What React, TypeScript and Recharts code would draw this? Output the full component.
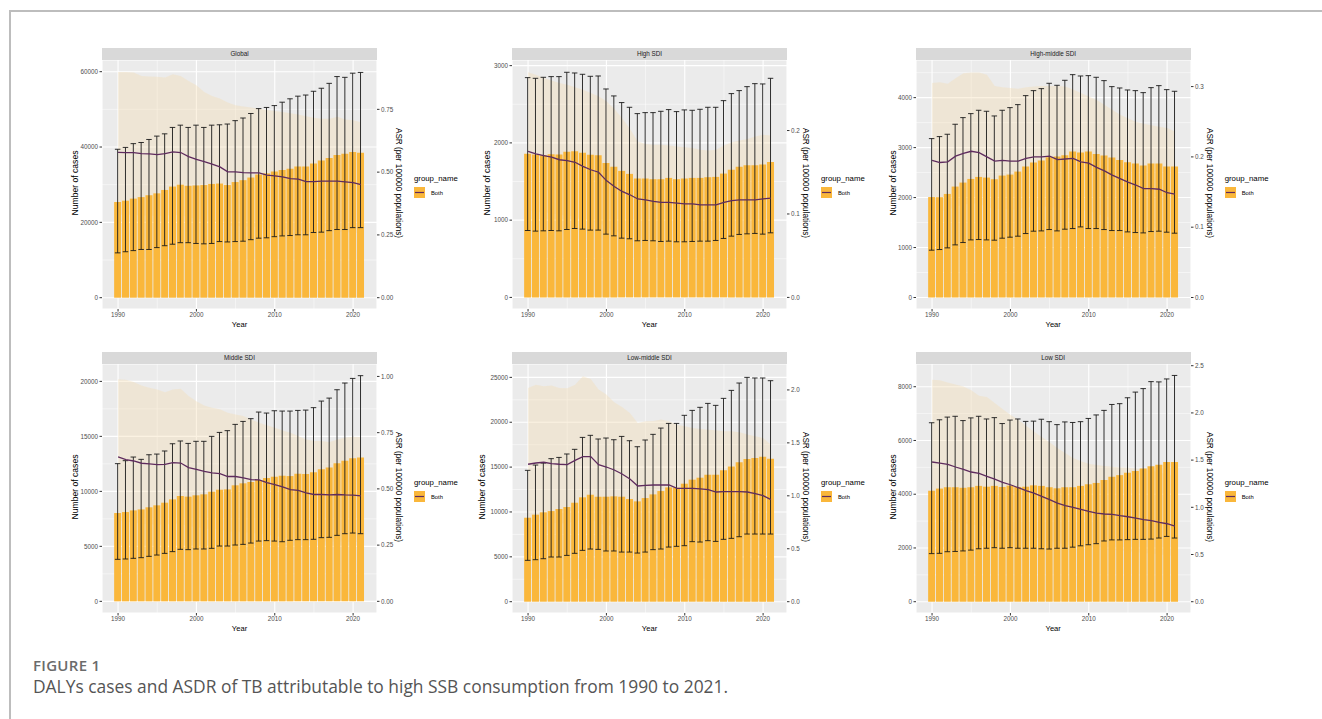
import { ComposedChart, Bar, ErrorBar, Line, Area, XAxis, YAxis, CartesianGrid } from "recharts"

const years = [1990, 1991, 1992, 1993, 1994, 1995, 1996, 1997, 1998, 1999, 2000, 2001, 2002, 2003, 2004, 2005, 2006, 2007, 2008, 2009, 2010, 2011, 2012, 2013, 2014, 2015, 2016, 2017, 2018, 2019, 2020, 2021]
const majorYears = [1990, 2000, 2010, 2020]
const minorYears = [1995, 2005, 2015]

// Global
const globalCases = [25400, 25750, 26300, 26700, 27200, 27700, 28600, 29500, 30000, 29700, 29800, 29900, 30200, 30300, 29900, 30700, 31200, 31900, 32700, 33000, 33500, 33900, 34200, 34800, 34800, 35600, 36400, 37100, 37900, 38200, 38700, 38500]
const globalUpper = [39400, 39900, 40900, 41200, 42000, 42900, 43500, 45200, 45800, 45200, 45800, 45200, 45800, 45900, 46100, 47000, 47700, 48900, 50200, 50500, 51000, 51900, 52800, 53500, 53800, 54800, 55600, 56900, 58700, 58500, 59600, 59800]
const globalLower = [11900, 12200, 12500, 12800, 12800, 13300, 13800, 14200, 14600, 14600, 14400, 14300, 14400, 14900, 14800, 14900, 15000, 15400, 15800, 15900, 16200, 16400, 16500, 16700, 16700, 17300, 17400, 17800, 18100, 18100, 18600, 18600]
const globalAsr = [0.579, 0.578, 0.578, 0.574, 0.573, 0.57, 0.574, 0.581, 0.578, 0.562, 0.551, 0.542, 0.532, 0.521, 0.501, 0.501, 0.498, 0.497, 0.497, 0.488, 0.485, 0.481, 0.474, 0.472, 0.462, 0.462, 0.464, 0.464, 0.464, 0.461, 0.458, 0.45]
const globalAsrUpper = [0.899, 0.899, 0.897, 0.883, 0.881, 0.88, 0.877, 0.89, 0.883, 0.863, 0.846, 0.819, 0.803, 0.793, 0.777, 0.766, 0.761, 0.757, 0.753, 0.747, 0.743, 0.739, 0.734, 0.729, 0.723, 0.717, 0.713, 0.713, 0.721, 0.71, 0.707, 0.699]
const globalAsrLower = [0.33, 0.33, 0.329, 0.327, 0.326, 0.325, 0.326, 0.33, 0.328, 0.32, 0.314, 0.309, 0.303, 0.297, 0.286, 0.286, 0.284, 0.283, 0.283, 0.278, 0.276, 0.274, 0.27, 0.269, 0.263, 0.263, 0.264, 0.264, 0.264, 0.262, 0.26, 0.256]

// High SDI
const highCases = [1858, 1849, 1840, 1853, 1849, 1884, 1892, 1871, 1845, 1840, 1741, 1690, 1638, 1599, 1539, 1539, 1530, 1530, 1547, 1530, 1539, 1547, 1547, 1556, 1560, 1603, 1651, 1690, 1711, 1711, 1720, 1754]
const highUpper = [2845, 2836, 2849, 2858, 2858, 2914, 2905, 2888, 2862, 2866, 2698, 2608, 2522, 2461, 2379, 2392, 2392, 2409, 2431, 2405, 2427, 2422, 2435, 2461, 2461, 2547, 2638, 2677, 2728, 2767, 2763, 2836]
const highLower = [866, 858, 862, 866, 862, 879, 892, 884, 871, 871, 819, 797, 767, 759, 733, 737, 733, 724, 728, 720, 720, 724, 728, 728, 737, 763, 793, 815, 823, 828, 819, 836]
const highAsr = [0.175, 0.172, 0.17, 0.168, 0.165, 0.164, 0.162, 0.157, 0.153, 0.15, 0.14, 0.133, 0.127, 0.123, 0.118, 0.117, 0.115, 0.114, 0.114, 0.113, 0.112, 0.112, 0.111, 0.111, 0.111, 0.114, 0.116, 0.117, 0.117, 0.117, 0.118, 0.119]
const highAsrUpper = [0.27, 0.267, 0.263, 0.26, 0.257, 0.255, 0.252, 0.249, 0.245, 0.241, 0.235, 0.226, 0.215, 0.202, 0.187, 0.184, 0.183, 0.183, 0.182, 0.181, 0.18, 0.179, 0.177, 0.176, 0.177, 0.182, 0.186, 0.188, 0.19, 0.193, 0.195, 0.194]
const highAsrLower = [0.105, 0.103, 0.102, 0.101, 0.099, 0.098, 0.097, 0.094, 0.092, 0.09, 0.084, 0.08, 0.076, 0.074, 0.071, 0.07, 0.069, 0.068, 0.068, 0.068, 0.067, 0.067, 0.067, 0.067, 0.067, 0.068, 0.07, 0.07, 0.07, 0.07, 0.071, 0.071]

// High-middle SDI
const hmCases = [2010, 2007, 2073, 2220, 2300, 2373, 2413, 2400, 2367, 2440, 2460, 2520, 2620, 2700, 2740, 2807, 2820, 2847, 2920, 2900, 2920, 2873, 2840, 2800, 2753, 2707, 2680, 2640, 2680, 2680, 2620, 2620]
const hmUpper = [3180, 3220, 3267, 3467, 3600, 3680, 3747, 3727, 3633, 3747, 3800, 3860, 4040, 4140, 4180, 4287, 4247, 4347, 4460, 4433, 4440, 4407, 4340, 4220, 4193, 4153, 4140, 4100, 4200, 4240, 4160, 4127]
const hmLower = [947, 960, 993, 1053, 1100, 1153, 1160, 1153, 1147, 1187, 1207, 1227, 1280, 1327, 1333, 1360, 1333, 1367, 1380, 1413, 1380, 1380, 1360, 1340, 1340, 1313, 1300, 1293, 1320, 1327, 1307, 1287]
const hmAsr = [0.195, 0.192, 0.193, 0.201, 0.205, 0.208, 0.206, 0.2, 0.194, 0.195, 0.194, 0.194, 0.198, 0.2, 0.2, 0.201, 0.196, 0.197, 0.198, 0.193, 0.191, 0.185, 0.18, 0.174, 0.169, 0.164, 0.16, 0.155, 0.155, 0.154, 0.149, 0.147]
const hmAsrUpper = [0.305, 0.306, 0.304, 0.312, 0.319, 0.32, 0.32, 0.317, 0.301, 0.299, 0.298, 0.297, 0.299, 0.3, 0.301, 0.301, 0.301, 0.3, 0.296, 0.291, 0.286, 0.281, 0.274, 0.267, 0.26, 0.255, 0.25, 0.247, 0.245, 0.243, 0.241, 0.236]
const hmAsrLower = [0.125, 0.123, 0.124, 0.129, 0.132, 0.134, 0.133, 0.129, 0.125, 0.126, 0.125, 0.125, 0.128, 0.129, 0.129, 0.13, 0.126, 0.127, 0.128, 0.124, 0.123, 0.119, 0.116, 0.112, 0.109, 0.106, 0.103, 0.1, 0.1, 0.099, 0.096, 0.095]

// Middle SDI
const midCases = [8030, 8120, 8270, 8360, 8550, 8730, 8970, 9270, 9580, 9520, 9640, 9730, 9970, 10150, 10180, 10550, 10730, 10850, 11030, 11210, 11330, 11420, 11390, 11610, 11580, 11730, 12000, 12180, 12550, 12790, 13000, 13090]
const midUpper = [12520, 12790, 13120, 12910, 13330, 13390, 13670, 14330, 14580, 14360, 14550, 14550, 15000, 15360, 15520, 16090, 16360, 16610, 17210, 17120, 17330, 17300, 17300, 17360, 17390, 17610, 18210, 18480, 19240, 19850, 20270, 20520]
const midLower = [3820, 3850, 3910, 3970, 4090, 4210, 4360, 4520, 4730, 4700, 4760, 4760, 4820, 5030, 5030, 5120, 5180, 5300, 5480, 5520, 5480, 5420, 5550, 5610, 5610, 5640, 5790, 5820, 6000, 6150, 6210, 6150]
const midAsr = [0.642, 0.63, 0.624, 0.614, 0.611, 0.608, 0.609, 0.617, 0.615, 0.595, 0.587, 0.578, 0.571, 0.568, 0.555, 0.555, 0.549, 0.541, 0.54, 0.528, 0.519, 0.509, 0.497, 0.493, 0.482, 0.475, 0.475, 0.473, 0.475, 0.473, 0.472, 0.469]
const midAsrUpper = [0.987, 0.985, 0.975, 0.96, 0.95, 0.942, 0.93, 0.942, 0.945, 0.913, 0.89, 0.871, 0.861, 0.854, 0.839, 0.831, 0.824, 0.809, 0.794, 0.783, 0.772, 0.76, 0.75, 0.735, 0.72, 0.713, 0.713, 0.709, 0.72, 0.728, 0.732, 0.731]
const midAsrLower = [0.36, 0.354, 0.35, 0.344, 0.343, 0.341, 0.342, 0.346, 0.345, 0.334, 0.329, 0.324, 0.32, 0.319, 0.311, 0.311, 0.308, 0.303, 0.303, 0.296, 0.291, 0.286, 0.279, 0.277, 0.27, 0.266, 0.266, 0.265, 0.266, 0.265, 0.265, 0.263]

// Low-middle SDI
const lmCases = [9360, 9700, 9960, 10100, 10330, 10550, 11030, 11630, 11920, 11700, 11700, 11740, 11700, 11440, 11180, 11550, 11960, 12330, 12740, 12700, 13150, 13600, 13820, 14150, 14150, 14640, 15080, 15530, 15900, 16010, 16160, 15940]
const lmUpper = [14640, 15230, 15450, 15940, 16080, 16460, 16980, 18310, 18540, 18130, 18240, 18050, 18420, 17940, 17270, 18020, 18650, 19350, 19870, 19870, 20770, 21320, 21660, 22100, 21880, 22660, 23550, 24370, 25000, 24930, 24930, 24630]
const lmLower = [4610, 4680, 4790, 4980, 4980, 5160, 5390, 5720, 5870, 5830, 5650, 5650, 5530, 5530, 5420, 5530, 5800, 5870, 6090, 6170, 6240, 6690, 6650, 6800, 6720, 6950, 7060, 7240, 7540, 7540, 7540, 7540]
const lmAsr = [1.298, 1.31, 1.317, 1.304, 1.298, 1.294, 1.335, 1.37, 1.37, 1.294, 1.272, 1.244, 1.206, 1.159, 1.093, 1.099, 1.102, 1.102, 1.102, 1.071, 1.071, 1.071, 1.065, 1.058, 1.036, 1.039, 1.039, 1.039, 1.036, 1.02, 1.002, 0.964]
const lmAsrUpper = [2.019, 2.05, 2.035, 2.041, 2.019, 2.016, 2.05, 2.129, 2.104, 2.003, 1.956, 1.883, 1.839, 1.783, 1.688, 1.704, 1.707, 1.72, 1.704, 1.672, 1.657, 1.641, 1.632, 1.625, 1.619, 1.61, 1.61, 1.6, 1.578, 1.562, 1.546, 1.483]
const lmAsrLower = [0.74, 0.747, 0.751, 0.743, 0.74, 0.738, 0.761, 0.781, 0.781, 0.738, 0.725, 0.709, 0.687, 0.661, 0.623, 0.626, 0.628, 0.628, 0.628, 0.61, 0.61, 0.61, 0.607, 0.603, 0.591, 0.592, 0.592, 0.592, 0.591, 0.581, 0.571, 0.55]

// Low SDI
const lowCases = [4130, 4210, 4260, 4260, 4240, 4260, 4310, 4280, 4310, 4270, 4320, 4270, 4280, 4330, 4310, 4260, 4220, 4260, 4260, 4310, 4370, 4420, 4530, 4650, 4710, 4800, 4860, 4960, 5040, 5100, 5200, 5200]
const lowUpper = [6660, 6770, 6870, 6900, 6740, 6840, 6900, 6800, 6850, 6630, 6760, 6800, 6710, 6720, 6790, 6700, 6590, 6690, 6670, 6700, 6820, 6950, 7120, 7340, 7370, 7590, 7800, 7930, 8190, 8180, 8290, 8420]
const lowLower = [1790, 1800, 1860, 1870, 1890, 1920, 1970, 1990, 2010, 1990, 2010, 1990, 1990, 1990, 1970, 1960, 1990, 1990, 2030, 2080, 2120, 2160, 2260, 2300, 2300, 2310, 2320, 2320, 2330, 2370, 2430, 2370]
const lowAsr = [1.48, 1.469, 1.455, 1.427, 1.402, 1.374, 1.359, 1.328, 1.299, 1.264, 1.239, 1.208, 1.176, 1.151, 1.116, 1.081, 1.045, 1.017, 0.999, 0.978, 0.957, 0.939, 0.929, 0.925, 0.911, 0.9, 0.886, 0.869, 0.858, 0.84, 0.826, 0.802]
const lowAsrUpper = [2.352, 2.345, 2.323, 2.302, 2.281, 2.239, 2.182, 2.168, 2.105, 2.041, 1.981, 1.928, 1.865, 1.804, 1.745, 1.688, 1.628, 1.575, 1.522, 1.487, 1.462, 1.448, 1.437, 1.43, 1.423, 1.42, 1.41, 1.4, 1.39, 1.37, 1.35, 1.32]
const lowAsrLower = [0.88, 0.874, 0.866, 0.85, 0.835, 0.818, 0.809, 0.79, 0.773, 0.752, 0.737, 0.719, 0.7, 0.685, 0.664, 0.643, 0.622, 0.605, 0.594, 0.582, 0.569, 0.559, 0.553, 0.55, 0.542, 0.535, 0.527, 0.517, 0.51, 0.5, 0.491, 0.477]

const panels = [
  { name: "Global", col: 0, row: 0, cases: globalCases, upper: globalUpper, lower: globalLower, asr: globalAsr, asrUpper: globalAsrUpper, asrLower: globalAsrLower,
    yDomain: [-3000, 63100], yTicks: [0, 20000, 40000, 60000], yMinor: [10000, 30000, 50000], factor: 66667, rTicks: [0, 0.25, 0.5, 0.75], rDigits: 2, titleX: 75 },
  { name: "High SDI", col: 1, row: 0, cases: highCases, upper: highUpper, lower: highLower, asr: highAsr, asrUpper: highAsrUpper, asrLower: highAsrLower,
    yDomain: [-150, 3073], yTicks: [0, 1000, 2000, 3000], yMinor: [500, 1500, 2500], factor: 10800, rTicks: [0, 0.1, 0.2], rDigits: 1, titleX: 487 },
  { name: "High-middle SDI", col: 2, row: 0, cases: hmCases, upper: hmUpper, lower: hmLower, asr: hmAsr, asrUpper: hmAsrUpper, asrLower: hmAsrLower,
    yDomain: [-230, 4753], yTicks: [0, 1000, 2000, 3000, 4000], yMinor: [500, 1500, 2500, 3500, 4500], factor: 14070, rTicks: [0, 0.1, 0.2, 0.3], rDigits: 1, titleX: 893 },
  { name: "Middle SDI", col: 0, row: 1, cases: midCases, upper: midUpper, lower: midLower, asr: midAsr, asrUpper: midAsrUpper, asrLower: midAsrLower,
    yDomain: [-1060, 21580], yTicks: [0, 5000, 10000, 15000, 20000], yMinor: [2500, 7500, 12500, 17500], factor: 20450, rTicks: [0, 0.25, 0.5, 0.75, 1], rDigits: 2, titleX: 75 },
  { name: "Low-middle SDI", col: 1, row: 1, cases: lmCases, upper: lmUpper, lower: lmLower, asr: lmAsr, asrUpper: lmAsrUpper, asrLower: lmAsrLower,
    yDomain: [-1260, 26490], yTicks: [0, 5000, 10000, 15000, 20000, 25000], yMinor: [2500, 7500, 12500, 17500, 22500], factor: 11800, rTicks: [0, 0.5, 1, 1.5, 2], rDigits: 1, titleX: 482 },
  { name: "Low SDI", col: 2, row: 1, cases: lowCases, upper: lowUpper, lower: lowLower, asr: lowAsr, asrUpper: lowAsrUpper, asrLower: lowAsrLower,
    yDomain: [-420, 8846], yTicks: [0, 2000, 4000, 6000, 8000], yMinor: [1000, 3000, 5000, 7000], factor: 3513, rTicks: [0, 0.5, 1, 1.5, 2, 2.5], rDigits: 1, titleX: 893 },
]

const plotLefts = [102, 512, 915.7]
const stripTops = [48, 352]
const PLOT_W = 275
const PLOT_H = 249
const STRIP_H = 12
const AXIS_W = 40
const X_H = 16
const TOP_PAD = 8
const FONT = "'Liberation Sans', Arial, sans-serif"
const BAR = "#FAB73B"
const LINE = "#5E2B5E"
const tickStyle = { fontSize: 6.3, fill: "#4D4D4D", fontFamily: FONT }

function Panel({ p }: { p: (typeof panels)[number] }) {
  const left = plotLefts[p.col]
  const top = stripTops[p.row] + STRIP_H
  const midY = stripTops[p.row] + 135
  const rightLabelW = p.rDigits === 2 ? 3 : 0
  const rows = years.map((year, i) => ({
    year,
    cases: p.cases[i],
    err: [p.cases[i] - p.lower[i], p.upper[i] - p.cases[i]],
    asr: p.asr[i],
    band: [p.asrLower[i], p.asrUpper[i]],
  }))
  return (
    <>
      <div style={{ position: "absolute", left: left - AXIS_W, top: top - TOP_PAD }}>
        <ComposedChart width={AXIS_W * 2 + PLOT_W} height={PLOT_H + X_H + TOP_PAD} data={rows} margin={{ top: TOP_PAD, right: 0, bottom: 0, left: 0 }}>
          <CartesianGrid fill="#EBEBEB" fillOpacity={1} stroke="#FFFFFF" strokeWidth={1.1} />
          <CartesianGrid stroke="#FFFFFF" strokeWidth={0.5} horizontalValues={p.yMinor} verticalValues={minorYears} />
          <XAxis type="number" dataKey="year" domain={[1987.95, 2023.05]} ticks={majorYears} allowDataOverflow interval={0}
            height={X_H} tickSize={2.5} tickMargin={1.5} axisLine={false} tickLine={{ stroke: "#333" }} tick={tickStyle} />
          <YAxis domain={p.yDomain} ticks={p.yTicks} allowDataOverflow interval={0} width={AXIS_W}
            tickSize={2.5} tickMargin={1.5} axisLine={false} tickLine={{ stroke: "#333" }} tick={tickStyle} />
          <YAxis yAxisId="r" orientation="right" domain={[p.yDomain[0] / p.factor, p.yDomain[1] / p.factor]} ticks={p.rTicks}
            allowDataOverflow interval={0} width={AXIS_W} tickFormatter={(v: number) => v.toFixed(p.rDigits)}
            tickSize={2.5} tickMargin={1.5} axisLine={false} tickLine={{ stroke: "#333" }} tick={tickStyle} />
          <Area yAxisId="r" dataKey="band" type="linear" fill="#F5DEB3" fillOpacity={0.38} stroke="none" isAnimationActive={false} />
          <Bar dataKey="cases" fill={BAR} barSize={7} isAnimationActive={false}>
            <ErrorBar dataKey="err" width={2.75} stroke="#1A1A1A" strokeWidth={0.9} />
          </Bar>
          <Line yAxisId="r" dataKey="asr" type="linear" stroke={LINE} strokeWidth={1.3} dot={false} activeDot={false} isAnimationActive={false} />
        </ComposedChart>
      </div>
      <div style={{ position: "absolute", left, top: stripTops[p.row], width: PLOT_W, height: STRIP_H, background: "#D9D9D9",
        fontFamily: FONT, fontSize: 6.3, color: "#1A1A1A", textAlign: "center", lineHeight: `${STRIP_H}px` }}>{p.name}</div>
      <div style={{ position: "absolute", left: p.titleX, top: midY, transform: "translate(-50%, -50%) rotate(-90deg)",
        whiteSpace: "nowrap", fontFamily: FONT, fontSize: 8.6, color: "#000" }}>Number of cases</div>
      <div style={{ position: "absolute", left: left + PLOT_W + 18 + rightLabelW, top: midY, transform: "translate(-50%, -50%) rotate(90deg)",
        whiteSpace: "nowrap", fontFamily: FONT, fontSize: 8.2, color: "#000" }}>ASR (per 100000 populations)</div>
      <div style={{ position: "absolute", left: left + PLOT_W / 2, top: top + PLOT_H + 15, transform: "translate(-50%, -50%)",
        whiteSpace: "nowrap", fontFamily: FONT, fontSize: 7.6, color: "#000" }}>Year</div>
      <div style={{ position: "absolute", left: left + PLOT_W + 34 + rightLabelW, top: midY - 5, transform: "translateY(-50%)",
        whiteSpace: "nowrap", fontFamily: FONT, fontSize: 7.8, color: "#000" }}>group_name</div>
      <div style={{ position: "absolute", left: left + PLOT_W + 34 + rightLabelW, top: midY + 4, display: "flex", alignItems: "center" }}>
        <svg width={11} height={11} style={{ display: "block" }}>
          <rect width={11} height={11} fill={BAR} />
          <line x1={1} x2={10} y1={5.5} y2={5.5} stroke={LINE} strokeWidth={1.2} />
        </svg>
        <span style={{ marginLeft: 6, fontFamily: FONT, fontSize: 5.8, color: "#000" }}>Both</span>
      </div>
    </>
  )
}

export default function App() {
  return (
    <div style={{ position: "absolute", left: 0, top: 0, width: 1322, height: 719, background: "#fff", overflow: "hidden" }}>
      <div style={{ position: "absolute", left: 9, top: 10, width: 1330, height: 720, borderLeft: "2px solid #BDBDBD", borderTop: "2px solid #BDBDBD" }} />
      {panels.map((p) => <Panel key={p.name} p={p} />)}
      <div style={{ position: "absolute", left: 33, top: 655, fontFamily: "'Open Sans', sans-serif", fontSize: 15, fontWeight: 600,
        color: "#6B6B6B", letterSpacing: 0.3, whiteSpace: "nowrap" }}>FIGURE 1</div>
      <div style={{ position: "absolute", left: 33, top: 674, fontFamily: "'Open Sans', sans-serif", fontSize: 17.4, fontWeight: 400,
        color: "#555", whiteSpace: "nowrap" }}>DALYs cases and ASDR of TB attributable to high SSB consumption from 1990 to 2021.</div>
    </div>
  )
}
